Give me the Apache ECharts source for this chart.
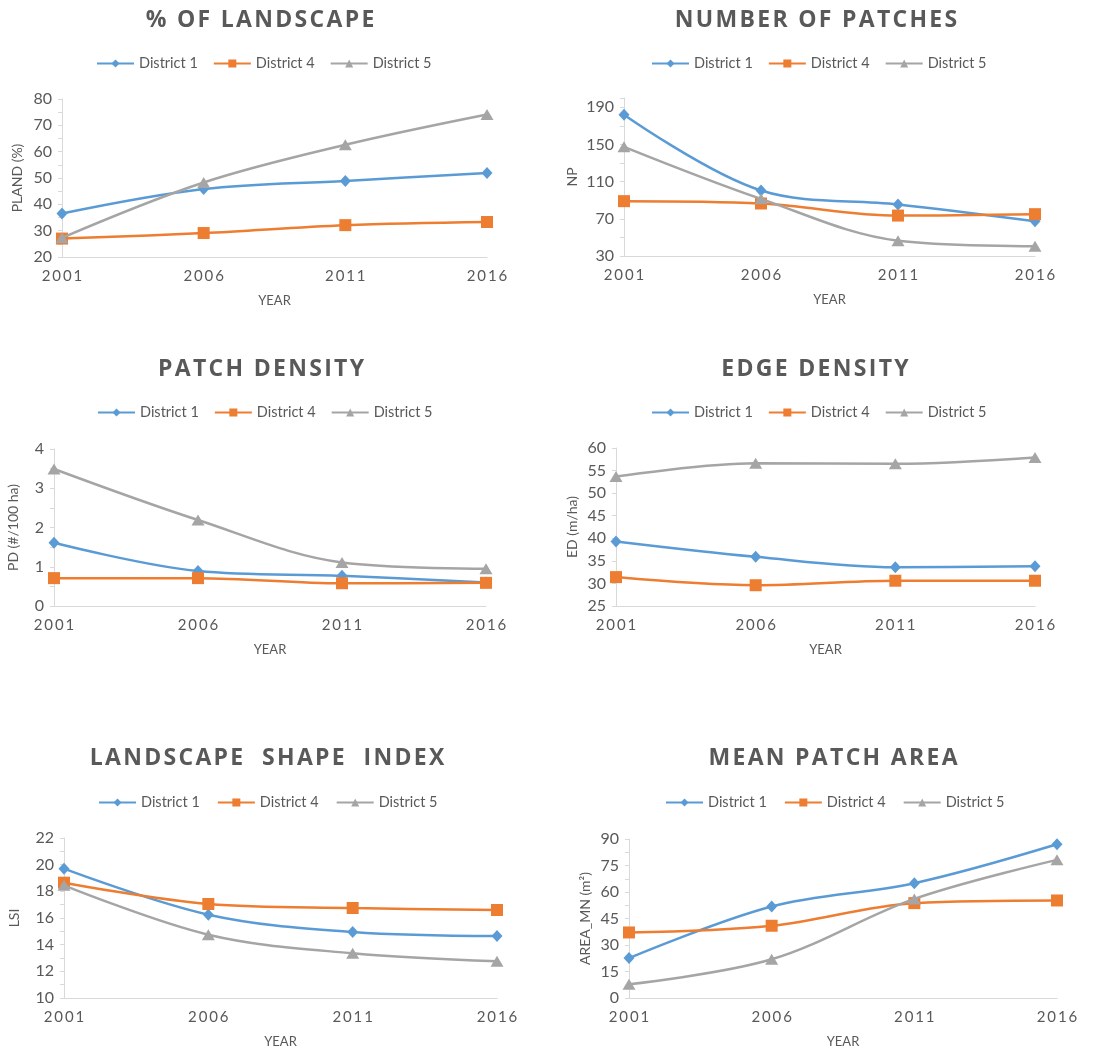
<!DOCTYPE html>
<html>
<head>
<meta charset="utf-8">
<title>Landscape metrics by district, 2001–2016</title>
<script src="https://cdn.jsdelivr.net/npm/echarts@6/dist/echarts.min.js"></script>
<style>
  html, body { margin: 0; padding: 0; background: #ffffff; }
  #chart { width: 1106px; height: 1057px; }
</style>
</head>
<body>
<div id="chart"></div>
<script>
// Survey years (x axis categories)
const years = ['2001', '2006', '2011', '2016'];
const districtNames = ['District 1', 'District 4', 'District 5'];

// % of landscape (PLAND, %)
const plandD1 = [36.5, 45.8, 48.9, 51.9];
const plandD4 = [27.0, 29.1, 32.1, 33.3];
const plandD5 = [27.3, 48.3, 62.6, 74.1];

// Number of patches (NP)
const npD1 = [182, 100.5, 85.5, 67.5];
const npD4 = [89, 86.5, 73.5, 75];
const npD5 = [147.5, 91.5, 46.5, 40.5];

// Patch density (PD, #/100 ha)
const pdD1 = [1.61, 0.89, 0.77, 0.60];
const pdD4 = [0.71, 0.71, 0.58, 0.59];
const pdD5 = [3.49, 2.19, 1.11, 0.95];

// Edge density (ED, m/ha)
const edD1 = [39.3, 35.9, 33.6, 33.8];
const edD4 = [31.4, 29.6, 30.6, 30.6];
const edD5 = [53.7, 56.6, 56.5, 57.9];

// Landscape shape index (LSI)
const lsiD1 = [19.7, 16.25, 14.95, 14.65];
const lsiD4 = [18.65, 17.05, 16.75, 16.6];
const lsiD5 = [18.45, 14.75, 13.35, 12.75];

// Mean patch area (AREA_MN, m²)
const areaD1 = [22.6, 51.8, 65.0, 87.0];
const areaD4 = [37.1, 40.9, 53.7, 55.2];
const areaD5 = [7.8, 21.9, 56.1, 78.2];

// Y axis tick settings per panel
const plandTicks = { min: 20, max: 80, interval: 10 };
const npTicks = { min: 30, max: 200, interval: 40 };
const pdTicks = { min: 0, max: 4, interval: 1 };
const edTicks = { min: 25, max: 60, interval: 5 };
const lsiTicks = { min: 10, max: 22, interval: 2 };
const areaTicks = { min: 0, max: 90, interval: 15 };

const TEXT = '#595959';
const AXIS = '#d9d9d9';
const FONT = 'Lato, "Open Sans", sans-serif';
const COLORS = ['#5B9BD5', '#ED7D31', '#A5A5A5'];
const SYMBOLS = ['diamond', 'rect', 'triangle'];
const SYMBOL_SIZES = [[11, 12], 12, [13, 11]];

// spread characters apart for the tracked lettering
const spaced = (s, gap) => s.split('').join(gap || '\u200A');

const panels = [
  { title: '% OF LANDSCAPE', yName: 'PLAND (%)', ticks: plandTicks, data: [plandD1, plandD4, plandD5],
    grid: { left: 62, top: 99, width: 425, height: 158 }, titleX: 260, titleY: 9,
    legend: { left: 96, top: 56, gap: 15 }, nameGap: 38, minor: true },
  { title: 'NUMBER OF PATCHES', yName: 'NP', ticks: npTicks, data: [npD1, npD4, npD5],
    grid: { left: 624, top: 98, width: 411, height: 158 }, titleX: 816, titleY: 9,
    legend: { left: 651, top: 56, gap: 15 }, nameGap: 45, minor: true, hideMax: true },
  { title: 'PATCH DENSITY', yName: 'PD (#/100 ha)', ticks: pdTicks, data: [pdD1, pdD4, pdD5],
    grid: { left: 54, top: 449, width: 432, height: 157 }, titleX: 261, titleY: 358,
    legend: { left: 97, top: 405, gap: 15 }, nameGap: 34, minor: true },
  { title: 'EDGE DENSITY', yName: 'ED (m/ha)', ticks: edTicks, data: [edD1, edD4, edD5],
    grid: { left: 616, top: 448, width: 419, height: 158 }, titleX: 815, titleY: 358,
    legend: { left: 651, top: 405, gap: 15 }, nameGap: 37, minor: false },
  { title: 'LANDSCAPE  SHAPE  INDEX', yName: 'LSI', ticks: lsiTicks, data: [lsiD1, lsiD4, lsiD5],
    grid: { left: 64, top: 838, width: 433, height: 160 }, titleX: 267, titleY: 747,
    legend: { left: 98, top: 795, gap: 17 }, nameGap: 43, minor: true },
  { title: 'MEAN PATCH AREA', yName: 'AREA_MN (m²)', ticks: areaTicks, data: [areaD1, areaD4, areaD5],
    grid: { left: 629, top: 839, width: 428, height: 159 }, titleX: 833, titleY: 747,
    legend: { left: 665, top: 795, gap: 17 }, nameGap: 37, minor: true }
];

const option = {
  animation: false,
  backgroundColor: '#ffffff',
  title: [], legend: [], grid: [], xAxis: [], yAxis: [], series: []
};

panels.forEach((p, i) => {
  option.title.push({
    text: spaced(p.title),
    left: p.titleX, top: p.titleY, textAlign: 'center', padding: 0,
    textStyle: { color: TEXT, fontFamily: '"Open Sans", sans-serif', fontWeight: 'bold', fontSize: 23 }
  });
  option.legend.push({
    data: districtNames,
    left: p.legend.left, top: p.legend.top, padding: 0,
    itemWidth: 37, itemHeight: 10, itemGap: p.legend.gap,
    selectedMode: false,
    textStyle: { color: TEXT, fontFamily: FONT, fontSize: 14.5 }
  });
  option.grid.push(Object.assign({ containLabel: false }, p.grid));
  option.xAxis.push({
    type: 'category', gridIndex: i, data: years, boundaryGap: false,
    name: 'YEAR', nameLocation: 'middle', nameGap: 37,
    nameTextStyle: { color: TEXT, fontFamily: FONT, fontSize: 13 },
    axisLine: { lineStyle: { color: AXIS, width: 1 } },
    axisTick: { show: false },
    axisLabel: { color: TEXT, fontFamily: FONT, fontSize: 15, margin: 12, formatter: v => spaced(v, '\u2009') },
    splitLine: { show: false }
  });
  option.yAxis.push({
    type: 'value', gridIndex: i,
    min: p.ticks.min, max: p.ticks.max, interval: p.ticks.interval,
    name: p.yName, nameLocation: 'middle', nameGap: p.nameGap,
    nameTextStyle: { color: TEXT, fontFamily: FONT, fontSize: 14 },
    axisLine: { show: true, lineStyle: { color: AXIS, width: 1 } },
    axisTick: { show: true, length: 4, lineStyle: { color: AXIS } },
    minorTick: { show: p.minor, splitNumber: 2, length: 4, lineStyle: { color: AXIS } },
    axisLabel: { color: TEXT, fontFamily: FONT, fontSize: 16, margin: 10, showMaxLabel: !p.hideMax },
    splitLine: { show: false }
  });
  p.data.forEach((vals, k) => {
    option.series.push({
      type: 'line', name: districtNames[k],
      xAxisIndex: i, yAxisIndex: i,
      data: vals,
      smooth: 0.35,
      symbol: SYMBOLS[k], symbolSize: SYMBOL_SIZES[k], showSymbol: true,
      lineStyle: { color: COLORS[k], width: 2.5 },
      itemStyle: { color: COLORS[k] },
      emphasis: { disabled: true },
      z: 2 + k
    });
  });
});

const chart = echarts.init(document.getElementById('chart'), null, { renderer: 'canvas' });
chart.setOption(option);
</script>
</body>
</html>
